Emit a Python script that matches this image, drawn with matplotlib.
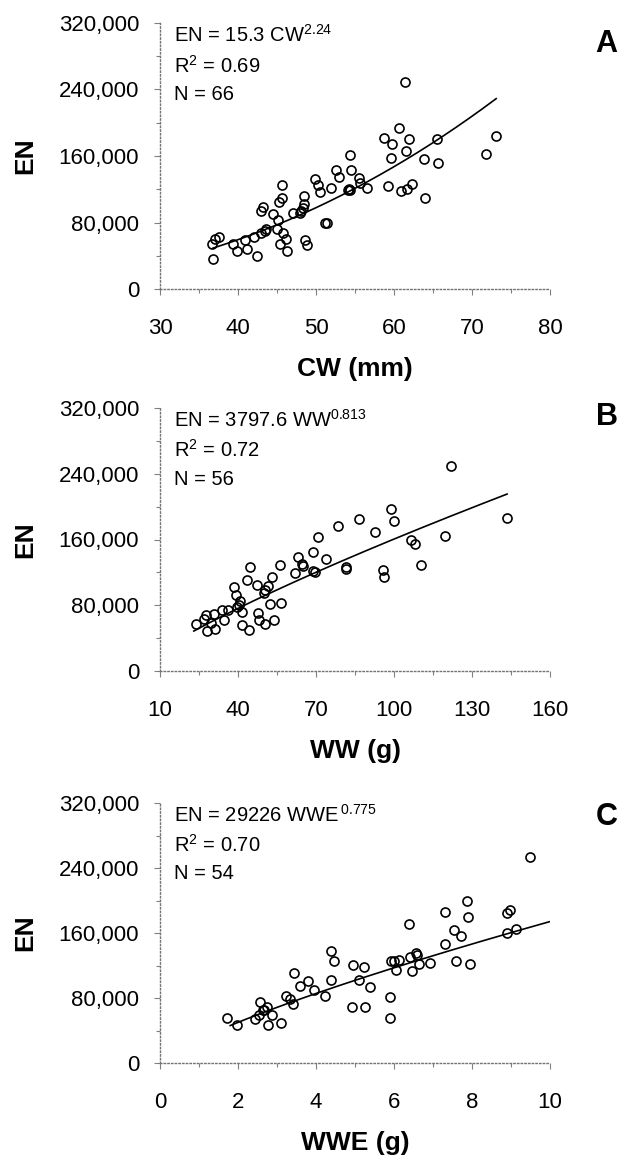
import numpy as np
import matplotlib.pyplot as plt
from matplotlib.ticker import FixedLocator, MultipleLocator, FuncFormatter

plt.rcParams['font.family'] = ['Liberation Sans', 'DejaVu Sans']
plt.rcParams['mathtext.fontset'] = 'custom'
plt.rcParams['mathtext.rm'] = 'Liberation Sans'

# panel A: carapace width (mm) vs egg number
cw = [36.8, 36.7, 37.0, 37.5, 39.4, 39.9, 40.9, 41.1, 42.1, 42.4, 43.0, 43.6,
      43.2, 43.0, 44.5, 45.1, 45.0, 45.6, 45.7, 45.3, 45.8, 45.4, 46.2, 46.3,
      47.1, 48.1, 48.4, 48.5, 48.6, 48.9, 49.9, 50.2, 50.5, 51.2, 51.4, 51.9,
      52.6, 52.9, 54.3, 54.5, 54.1, 54.4, 55.5, 55.6, 56.6, 58.7, 59.8, 60.7,
      59.6, 59.2, 60.9, 61.7, 62.3, 61.9, 61.5, 61.4, 63.9, 64.0, 65.5, 65.7,
      71.8, 73.1, 43.4, 48.3, 54.2, 47.9]
en_a = [35.7, 53.7, 60.5, 63, 54, 45.7, 58.5, 48.5, 63, 40, 67, 72.6,
        99, 93.4, 89.8, 83, 72, 124.7, 110, 104.7, 67.8, 54.5, 59.7, 46,
        91.8, 93.8, 101.9, 111.5, 59.3, 53.3, 132, 124.7, 117, 79.8, 79.8, 122,
        142.8, 135, 160.8, 143, 119, 119, 134, 127, 121, 182, 175, 194,
        158, 124, 118, 120, 126, 180.5, 166, 249, 156, 109.5, 181, 152,
        162, 184, 70, 98, 120, 92]

# panel B: wet weight (g)
ww = [23.9, 26.9, 28.1, 29.6, 30.9, 31.3, 33.8, 34.5, 36.0, 38.3, 39.4, 39.8,
      40.9, 41.7, 41.7, 43.3, 44.1, 44.7, 47.3, 47.8, 47.9, 49.9, 50.4, 51.6,
      52.2, 53.0, 54.0, 56.0, 56.6, 61.9, 63.0, 64.5, 68.8, 69.5, 68.8, 70.6,
      73.8, 78.4, 81.7, 81.7, 86.7, 92.8, 95.9, 96.2, 98.9, 100.1, 106.4, 107.9,
      110.2, 119.8, 121.8, 143.5, 40.3, 50.5, 27.7, 65.0]
en_b = [57.6, 63.7, 48.7, 58.4, 69.8, 51.5, 74.7, 61.7, 73.9, 102.4, 92.2, 78,
        85.3, 71.9, 56.4, 111.3, 49.5, 126.8, 104.8, 70.6, 61.7, 95, 56.8, 104,
        82, 114.6, 61.7, 128.4, 82.8, 119.5, 139, 130, 121.9, 120.7, 145, 163.4,
        136.5, 176.8, 126.8, 123.5, 184.5, 169, 122.7, 114.6, 196.8, 183, 160, 155,
        128.8, 164.6, 250, 186.6, 80, 98, 67.8, 128]

# panel C: wet weight of eggs (g)
wwe = [1.72, 1.97, 2.44, 2.53, 2.57, 2.66, 2.75, 2.76, 2.86, 3.11, 3.23, 3.33,
       3.41, 3.44, 3.59, 3.79, 3.95, 4.24, 4.38, 4.45, 4.38, 4.93, 4.96, 5.09,
       5.22, 5.25, 5.38, 5.91, 5.91, 5.93, 6.04, 6.13, 6.39, 6.41, 6.46, 6.57,
       6.64, 6.92, 7.32, 7.32, 7.53, 7.60, 7.73, 7.88, 7.91, 7.96, 8.89, 8.97,
       8.91, 9.12, 9.49, 2.65, 6.0, 6.6]
en_c = [55.4, 46.4, 54.2, 59.5, 74.7, 65.6, 68.5, 46.8, 59.5, 49.2, 82.9, 78.8,
        72.6, 110.8, 94.4, 100.5, 90.3, 82.9, 138.3, 125.1, 102.6, 68.9, 121, 101.8,
        118.6, 68.9, 93.1, 80.8, 55, 125.6, 114, 127.2, 171, 130.5, 113.2, 135.4,
        122.3, 123, 146.5, 185.9, 163.3, 125.1, 155.9, 199, 179.3, 122.3, 184.6, 188.7,
        160, 164.9, 253, 65, 126, 133]

# fitted power curves EN = a * X^b as printed on the chart
coef_a = [15.3, 3797.6, 29226]
coef_b = [2.24, 0.813, 0.775]
fit_span = [(36.8, 73.1), (23.0, 143.5), (1.8, 10.0)]

xlabels = ['CW (mm)', 'WW (g)', 'WWE (g)']
letters = ['A', 'B', 'C']
stats = [('EN = 15.3 CW$^{2.24}$', 'R$^{2}$ = 0.69', 'N = 66'),
         ('EN = 3797.6 WW$^{0.813}$', 'R$^{2}$ = 0.72', 'N = 56'),
         ('EN = 29226 WWE$^{\\,0.775}$', 'R$^{2}$ = 0.70', 'N = 54')]
xticks = [[30, 40, 50, 60, 70, 80],
          [10, 40, 70, 100, 130, 160],
          [0, 2, 4, 6, 8, 10]]

xs = [cw, ww, wwe]
ys = [en_a, en_b, en_c]

W, H = 618, 1157
fig = plt.figure(figsize=(W / 100, H / 100), dpi=100)

# axes boxes in pixels: (left, right, top, bottom)
boxes = [(160, 550, 23, 289), (160, 550, 408, 671), (160, 550, 803, 1063)]
letter_y = [0.92, 0.965, 0.945]

for i in range(3):
    l, r, t, b = boxes[i]
    ax = fig.add_axes([l / W, (H - b) / H, (r - l) / W, (b - t) / H])

    ax.plot(xs[i], np.array(ys[i]) * 1000, 'o', mfc='none', mec='black',
            ms=6.5, mew=1.2, zorder=3)
    fx = np.linspace(fit_span[i][0], fit_span[i][1], 200)
    ax.plot(fx, coef_a[i] * fx ** coef_b[i], color='black', lw=1.2)

    tk = xticks[i]
    step = (tk[1] - tk[0]) / 2
    ax.set_xlim(tk[0], tk[-1])
    ax.set_ylim(0, 320000)
    ax.xaxis.set_major_locator(FixedLocator(tk))
    ax.xaxis.set_minor_locator(FixedLocator(np.arange(tk[0], tk[-1] + step / 2, step)))
    ax.yaxis.set_major_locator(MultipleLocator(80000))
    ax.yaxis.set_minor_locator(MultipleLocator(40000))
    ax.yaxis.set_major_formatter(FuncFormatter(lambda v, p: f'{v:,.0f}'))

    for s in ['top', 'right']:
        ax.spines[s].set_visible(False)
    for s in ['left', 'bottom']:
        ax.spines[s].set_linestyle(':')
        ax.spines[s].set_color('0.45')
        ax.spines[s].set_linewidth(1.0)
    ax.tick_params(which='both', direction='out', color='0.5', width=0.8)
    ax.tick_params(which='major', length=4, labelsize=16)
    ax.tick_params(which='minor', length=3)
    ax.tick_params(axis='y', pad=11)
    ax.tick_params(axis='x', pad=17)

    ax.set_xlabel(xlabels[i], fontsize=19, fontweight='bold')
    ax.xaxis.set_label_coords(0.5, -80 / (b - t))
    ax.xaxis.label.set_va('center')
    ax.set_ylabel('EN', fontsize=19, fontweight='bold')
    ax.yaxis.set_label_coords(-0.345, 0.5)
    ax.yaxis.label.set_va('center')

    for txt, yy in zip(stats[i], [0.955, 0.84, 0.73]):
        ax.text(0.035, yy, txt, transform=ax.transAxes, fontsize=14.5,
                ha='left', va='center')
    ax.text(1.145, letter_y[i], letters[i], transform=ax.transAxes,
            fontsize=22, fontweight='bold', ha='center', va='center')

fig.savefig('out.png', dpi=100)
